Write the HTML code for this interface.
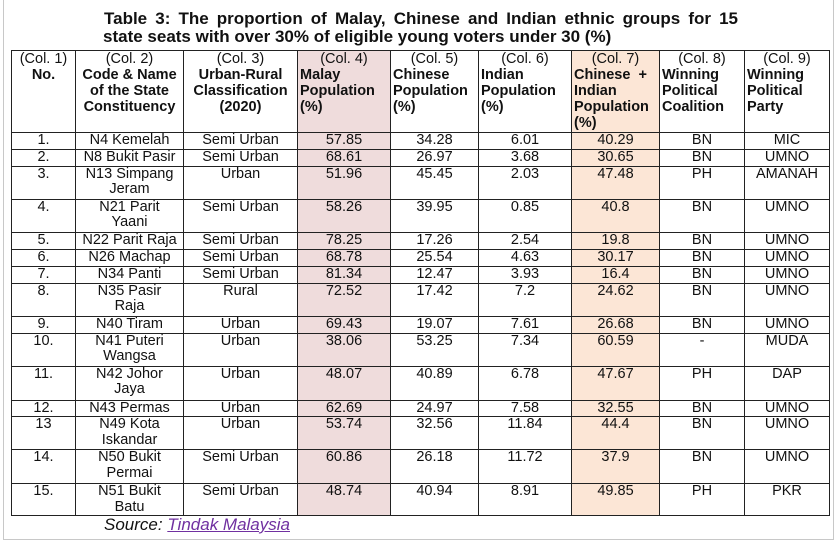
<!DOCTYPE html>
<html><head><meta charset="utf-8"><style>
body{margin:0;width:840px;height:542px;background:#fff;position:relative;overflow:hidden;font-family:"Liberation Sans",Arial,sans-serif;color:#111}
.frame{position:absolute;left:3px;top:-2px;width:829px;height:541px;border:1px solid #c8c8c8;border-top:none}
.t1{position:absolute;left:104px;top:10px;width:634px;font-weight:bold;font-size:17px;text-align:justify;text-align-last:justify;line-height:17px;white-space:nowrap}
.t2{position:absolute;left:103px;top:28px;font-weight:bold;font-size:17px;line-height:17px}
table{position:absolute;left:11px;top:50px;width:818px;border-collapse:collapse;table-layout:fixed;font-size:14.5px;line-height:15.5px}
td{border:1.2px solid #222;padding:0 2px;vertical-align:top;text-align:center;overflow:hidden;white-space:nowrap}
th{border:1.2px solid #222;padding:0 2px;vertical-align:top;font-weight:bold;text-align:left;line-height:16px;white-space:nowrap;overflow:hidden}
th .c{display:block;text-align:center;font-weight:normal}
th.ctr{text-align:center}
.p{background:#efdcdc}.o{background:#fce6d6}
.src{position:absolute;left:104px;top:515px;font-size:17px;font-style:italic}
.src a{color:#7030a0;text-decoration:underline}
</style></head><body>
<div class="frame"></div>
<div class="t1">Table 3: The proportion of Malay, Chinese and Indian ethnic groups for 15</div>
<div class="t2">state seats with over 30% of eligible young voters under 30 (%)</div>
<table>
<colgroup><col style="width:64px"><col style="width:108px"><col style="width:114px"><col style="width:93px"><col style="width:88px"><col style="width:93px"><col style="width:88px"><col style="width:85px"><col style="width:85px"></colgroup>
<tr style="height:82px">
<th class="ctr"><span class="c">(Col. 1)</span>No.</th>
<th class="ctr"><span class="c">(Col. 2)</span>Code &amp; Name<br>of the State<br>Constituency</th>
<th class="ctr"><span class="c">(Col. 3)</span>Urban-Rural<br>Classification<br>(2020)</th>
<th class="p"><span class="c">(Col. 4)</span>Malay<br>Population<br>(%)</th>
<th><span class="c">(Col. 5)</span>Chinese<br>Population<br>(%)</th>
<th><span class="c">(Col. 6)</span>Indian<br>Population<br>(%)</th>
<th class="o"><span class="c">(Col. 7)</span>Chinese &nbsp;+<br>Indian<br>Population<br>(%)</th>
<th><span class="c">(Col. 8)</span>Winning<br>Political<br>Coalition</th>
<th><span class="c">(Col. 9)</span>Winning<br>Political<br>Party</th>
</tr>
<tr style="height:16px"><td>1.</td><td>N4 Kemelah</td><td>Semi Urban</td><td class="p">57.85</td><td>34.28</td><td>6.01</td><td class="o">40.29</td><td>BN</td><td>MIC</td></tr>
<tr style="height:17px"><td>2.</td><td>N8 Bukit Pasir</td><td>Semi Urban</td><td class="p">68.61</td><td>26.97</td><td>3.68</td><td class="o">30.65</td><td>BN</td><td>UMNO</td></tr>
<tr style="height:33px"><td>3.</td><td>N13 Simpang<br>Jeram</td><td>Urban</td><td class="p">51.96</td><td>45.45</td><td>2.03</td><td class="o">47.48</td><td>PH</td><td>AMANAH</td></tr>
<tr style="height:33px"><td>4.</td><td>N21 Parit<br>Yaani</td><td>Semi Urban</td><td class="p">58.26</td><td>39.95</td><td>0.85</td><td class="o">40.8</td><td>BN</td><td>UMNO</td></tr>
<tr style="height:17px"><td>5.</td><td>N22 Parit Raja</td><td>Semi Urban</td><td class="p">78.25</td><td>17.26</td><td>2.54</td><td class="o">19.8</td><td>BN</td><td>UMNO</td></tr>
<tr style="height:17px"><td>6.</td><td>N26 Machap</td><td>Semi Urban</td><td class="p">68.78</td><td>25.54</td><td>4.63</td><td class="o">30.17</td><td>BN</td><td>UMNO</td></tr>
<tr style="height:17px"><td>7.</td><td>N34 Panti</td><td>Semi Urban</td><td class="p">81.34</td><td>12.47</td><td>3.93</td><td class="o">16.4</td><td>BN</td><td>UMNO</td></tr>
<tr style="height:33px"><td>8.</td><td>N35 Pasir<br>Raja</td><td>Rural</td><td class="p">72.52</td><td>17.42</td><td>7.2</td><td class="o">24.62</td><td>BN</td><td>UMNO</td></tr>
<tr style="height:17px"><td>9.</td><td>N40 Tiram</td><td>Urban</td><td class="p">69.43</td><td>19.07</td><td>7.61</td><td class="o">26.68</td><td>BN</td><td>UMNO</td></tr>
<tr style="height:33px"><td>10.</td><td>N41 Puteri<br>Wangsa</td><td>Urban</td><td class="p">38.06</td><td>53.25</td><td>7.34</td><td class="o">60.59</td><td>-</td><td>MUDA</td></tr>
<tr style="height:34px"><td>11.</td><td>N42 Johor<br>Jaya</td><td>Urban</td><td class="p">48.07</td><td>40.89</td><td>6.78</td><td class="o">47.67</td><td>PH</td><td>DAP</td></tr>
<tr style="height:16px"><td>12.</td><td>N43 Permas</td><td>Urban</td><td class="p">62.69</td><td>24.97</td><td>7.58</td><td class="o">32.55</td><td>BN</td><td>UMNO</td></tr>
<tr style="height:33px"><td>13</td><td>N49 Kota<br>Iskandar</td><td>Urban</td><td class="p">53.74</td><td>32.56</td><td>11.84</td><td class="o">44.4</td><td>BN</td><td>UMNO</td></tr>
<tr style="height:34px"><td>14.</td><td>N50 Bukit<br>Permai</td><td>Semi Urban</td><td class="p">60.86</td><td>26.18</td><td>11.72</td><td class="o">37.9</td><td>BN</td><td>UMNO</td></tr>
<tr style="height:31px"><td>15.</td><td>N51 Bukit<br>Batu</td><td>Semi Urban</td><td class="p">48.74</td><td>40.94</td><td>8.91</td><td class="o">49.85</td><td>PH</td><td>PKR</td></tr>
</table>
<div class="src">Source: <a>Tindak Malaysia</a></div>
</body></html>
